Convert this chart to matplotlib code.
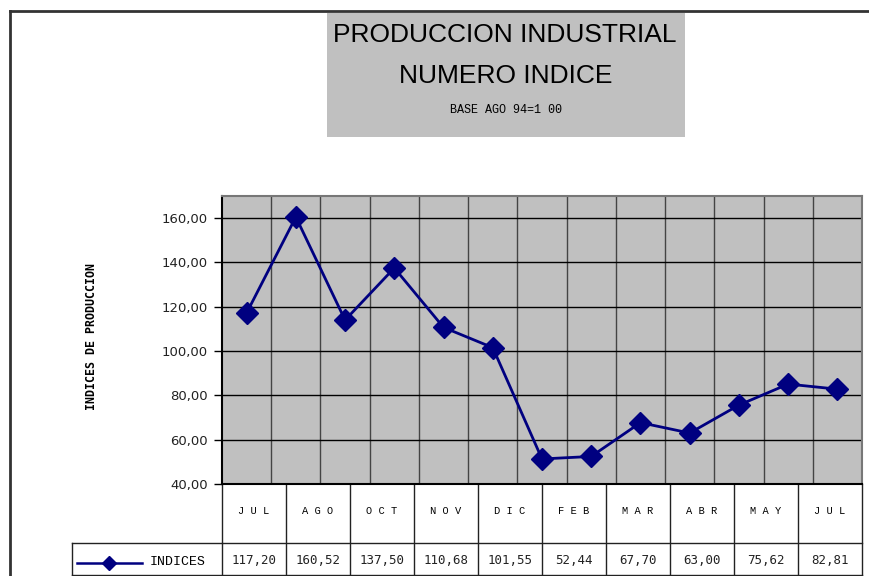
import numpy as np
import matplotlib
matplotlib.use('Agg')
from matplotlib import pyplot as plt
from matplotlib.patches import Rectangle
from matplotlib.lines import Line2D

# monthly index values plotted (13 points)
months = ['JUL', 'AGO', 'SEP', 'OCT', 'NOV', 'DIC', 'ENE',
          'FEB', 'MAR', 'ABR', 'MAY', 'JUN', 'JUL']
indices = [117.20, 160.52, 114.0, 137.50, 110.68, 101.55, 51.3,
           52.44, 67.70, 63.00, 75.62, 85.1, 82.81]

# the data table under the chart only shows ten of the columns
table_months = ['JUL', 'AGO', 'OCT', 'NOV', 'DIC', 'FEB', 'MAR', 'ABR', 'MAY', 'JUL']
table_values = [117.20, 160.52, 137.50, 110.68, 101.55, 52.44, 67.70, 63.00, 75.62, 82.81]
series_name = 'INDICES'

y_ticks = [40, 60, 80, 100, 120, 140, 160]

W, H = 870, 576
NAVY = '#000080'
GRAY = '#C0C0C0'


def fmt(v):
    return f'{v:.2f}'.replace('.', ',')


fig = plt.figure(figsize=(W / 100, H / 100), dpi=100)

# overlay in pixel coordinates for frame, title box and table
bg = fig.add_axes([0, 0, 1, 1])
bg.set_xlim(0, W)
bg.set_ylim(H, 0)
bg.axis('off')

bg.plot([10, W], [11, 11], color='#333333', lw=2)
bg.plot([10, 10], [11, H], color='#333333', lw=2)

bg.add_patch(Rectangle((327, 13), 358, 124, facecolor=GRAY, edgecolor='none'))
bg.text(505, 35, 'PRODUCCION INDUSTRIAL', ha='center', va='center',
        fontsize=19, family='Liberation Sans')
bg.text(506, 76, 'NUMERO INDICE', ha='center', va='center',
        fontsize=19, family='Liberation Sans')
bg.text(506, 110, 'BASE AGO 94=1 00', ha='center', va='center',
        fontsize=8.5, family='Liberation Mono')

bg.text(92, 336, 'INDICES DE PRODUCCION', rotation=90, ha='center', va='center',
        fontsize=8.4, family='DejaVu Sans Mono', fontweight='bold')

# data table
x0, x1 = 222, 862
top, mid, bot = 484, 543, 575
edges = np.linspace(x0, x1, len(table_months) + 1)
lc = '#222222'
bg.plot([x0, x1], [mid, mid], color=lc, lw=1)
bg.plot([72, x1], [bot, bot], color=lc, lw=1)
bg.plot([72, 72], [mid, bot], color=lc, lw=1)
bg.plot([72, x0], [mid, mid], color=lc, lw=1)
for e in edges:
    bg.plot([e, e], [top, bot], color=lc, lw=1)
centers = (edges[:-1] + edges[1:]) / 2
for cx, m, v in zip(centers, table_months, table_values):
    bg.text(cx, 511, ' '.join(m), ha='center', va='center',
            fontsize=7.5, family='Liberation Mono')
    bg.text(cx, 561, fmt(v), ha='center', va='center',
            fontsize=9, family='DejaVu Sans Mono', color='#222222')
bg.add_line(Line2D([77, 142], [563, 563], color=NAVY, lw=1.8))
bg.plot([109], [563], marker='D', color=NAVY, markersize=7)
bg.text(178, 562, series_name, ha='center', va='center',
        fontsize=9.5, family='Liberation Mono')

# main plot
ax = fig.add_axes([x0 / W, 1 - top / H, (x1 - x0) / W, (top - 196) / H])
ax.set_facecolor(GRAY)
x = np.arange(len(months))
ax.plot(x, indices, color=NAVY, lw=2, marker='D', markersize=11, zorder=3)
ax.set_xlim(-0.5, len(months) - 0.5)
ax.set_ylim(40, 170)
ax.set_yticks(y_ticks)
ax.set_yticklabels([fmt(t) for t in y_ticks], fontsize=9.5, color='#222222')
ax.set_xticks([])
for xv in x[:-1] + 0.5:
    ax.axvline(xv, color='#444444', lw=1, zorder=1)
for t in y_ticks[1:]:
    ax.axhline(t, color='black', lw=1, zorder=1)
ax.tick_params(axis='y', direction='out', length=6, width=1, pad=4)
for s in ax.spines.values():
    s.set_color('#777777')
    s.set_linewidth(1.5)
ax.spines['left'].set_color('black')
ax.spines['bottom'].set_color('black')

fig.savefig('out.png', dpi=100)
